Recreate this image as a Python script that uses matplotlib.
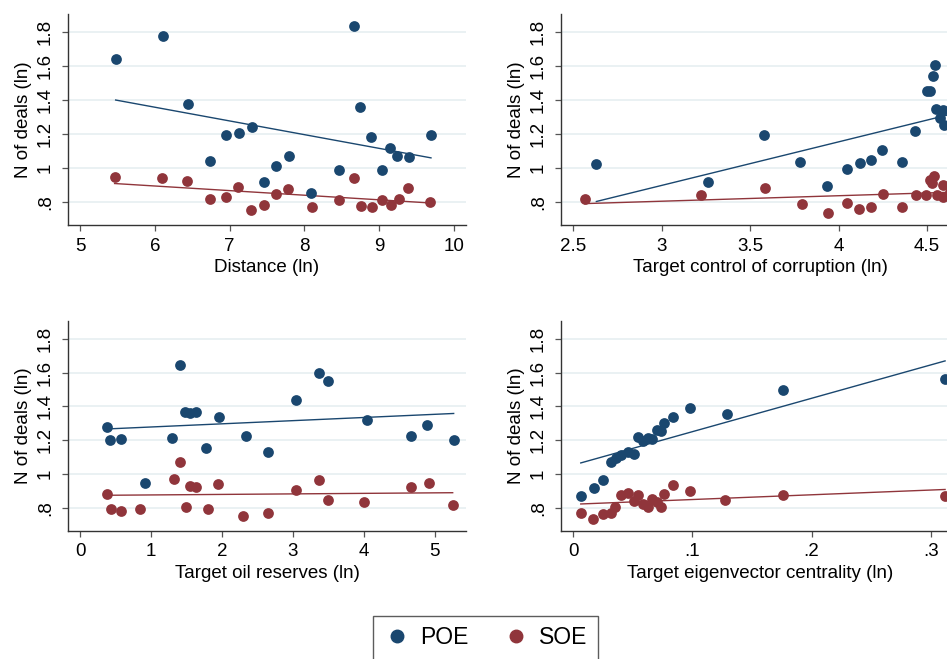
import numpy as np
import matplotlib
matplotlib.use("Agg")
import matplotlib.pyplot as plt

plt.rcParams['font.family'] = ['Liberation Sans', 'DejaVu Sans']

POE_COLOR = '#1a476f'
SOE_COLOR = '#90353b'
GRID_COLOR = '#e8f0f2'

# --- Distance ---
dist_poe_x = [5.477, 6.110, 6.444, 6.734, 6.956, 7.120, 7.300, 7.455, 7.625, 7.790,
              8.084, 8.463, 8.659, 8.748, 8.886, 9.042, 9.144, 9.242, 9.398, 9.692]
dist_poe_y = [1.641, 1.776, 1.376, 1.042, 1.195, 1.207, 1.240, 0.916, 1.010, 1.067,
              0.855, 0.989, 1.837, 1.356, 1.181, 0.989, 1.118, 1.067, 1.065, 1.191]
dist_soe_x = [5.463, 6.096, 6.430, 6.738, 6.956, 7.116, 7.290, 7.464, 7.620, 7.780,
              8.106, 8.467, 8.663, 8.757, 8.899, 9.042, 9.153, 9.260, 9.389, 9.683]
dist_soe_y = [0.947, 0.941, 0.920, 0.816, 0.828, 0.886, 0.755, 0.782, 0.847, 0.873,
              0.767, 0.812, 0.938, 0.778, 0.769, 0.812, 0.782, 0.816, 0.881, 0.798]

# --- Control of corruption ---
corr_poe_x = [2.630, 3.260, 3.580, 3.780, 3.936, 4.048, 4.119, 4.183, 4.247, 4.360,
              4.434, 4.499, 4.518, 4.535, 4.544, 4.551, 4.574, 4.589, 4.597, 4.640]
corr_poe_y = [1.024, 0.918, 1.191, 1.032, 0.892, 0.996, 1.030, 1.044, 1.106, 1.032,
              1.216, 1.451, 1.451, 1.541, 1.604, 1.349, 1.291, 1.339, 1.251, 1.300]
corr_soe_x = [2.564, 3.220, 3.584, 3.793, 3.942, 4.049, 4.117, 4.183, 4.251, 4.360,
              4.437, 4.495, 4.515, 4.529, 4.540, 4.559, 4.589, 4.593, 4.630, 4.660]
corr_soe_y = [0.818, 0.843, 0.881, 0.788, 0.733, 0.794, 0.759, 0.772, 0.845, 0.772,
              0.839, 0.839, 0.928, 0.910, 0.951, 0.839, 0.898, 0.829, 0.860, 0.850]

# --- Oil reserves ---
oil_poe_x = [0.372, 0.423, 0.574, 0.908, 1.294, 1.402, 1.482, 1.552, 1.627, 1.778,
             1.952, 2.338, 2.648, 3.039, 3.363, 3.490, 4.040, 4.661, 4.887, 5.268]
oil_poe_y = [1.277, 1.201, 1.207, 0.947, 1.216, 1.647, 1.370, 1.362, 1.370, 1.156,
             1.338, 1.228, 1.130, 1.440, 1.600, 1.549, 1.319, 1.228, 1.289, 1.199]
oil_soe_x = [0.372, 0.428, 0.569, 0.842, 1.317, 1.402, 1.491, 1.543, 1.627, 1.806,
             1.938, 2.291, 2.643, 3.039, 3.363, 3.500, 4.003, 4.661, 4.925, 5.254]
oil_soe_y = [0.881, 0.794, 0.780, 0.794, 0.971, 1.071, 0.808, 0.932, 0.924, 0.796,
             0.941, 0.755, 0.769, 0.906, 0.967, 0.849, 0.837, 0.924, 0.949, 0.818]

# --- Eigenvector centrality ---
eig_poe_x = [0.0062, 0.0171, 0.0246, 0.0313, 0.0355, 0.0400, 0.0459, 0.0509, 0.0540, 0.0582,
             0.0624, 0.0663, 0.0705, 0.0736, 0.0764, 0.0837, 0.0977, 0.1293, 0.1760, 0.3121]
eig_poe_y = [0.873, 0.918, 0.963, 1.071, 1.098, 1.116, 1.132, 1.120, 1.220, 1.197,
             1.216, 1.208, 1.262, 1.254, 1.305, 1.335, 1.388, 1.354, 1.499, 1.560]
eig_soe_x = [0.0062, 0.0168, 0.0246, 0.0313, 0.0350, 0.0400, 0.0459, 0.0509, 0.0540, 0.0582,
             0.0624, 0.0663, 0.0705, 0.0736, 0.0764, 0.0837, 0.0977, 0.1273, 0.1758, 0.3121]
eig_soe_y = [0.769, 0.737, 0.765, 0.772, 0.806, 0.879, 0.886, 0.839, 0.879, 0.822,
             0.804, 0.855, 0.837, 0.808, 0.884, 0.935, 0.903, 0.847, 0.877, 0.871]

# linear fits (intercept, slope) as drawn in the reference
fit_poe = [(1.841, -0.0807), (0.129, 0.256), (1.260, 0.0187), (1.054, 1.971)]
fit_soe = [(1.056, -0.0271), (0.707, 0.0323), (0.874, 0.0031), (0.822, 0.280)]

xlabels = ["Distance (ln)", "Target control of corruption (ln)",
           "Target oil reserves (ln)", "Target eigenvector centrality (ln)"]
xticks = [[5, 6, 7, 8, 9, 10], [2.5, 3, 3.5, 4, 4.5], [0, 1, 2, 3, 4, 5], [0, 0.1, 0.2, 0.3]]
xticklabels = [["5", "6", "7", "8", "9", "10"], ["2.5", "3", "3.5", "4", "4.5"],
               ["0", "1", "2", "3", "4", "5"], ["0", ".1", ".2", ".3"]]
xlims = [(4.84, 10.16), (2.43, 4.681), (-0.174, 5.442), (-0.0104, 0.3238)]
yticks = [0.8, 1.0, 1.2, 1.4, 1.6, 1.8]
yticklabels = [".8", "1", "1.2", "1.4", "1.6", "1.8"]

panels = [(dist_poe_x, dist_poe_y, dist_soe_x, dist_soe_y),
          (corr_poe_x, corr_poe_y, corr_soe_x, corr_soe_y),
          (oil_poe_x, oil_poe_y, oil_soe_x, oil_soe_y),
          (eig_poe_x, eig_poe_y, eig_soe_x, eig_soe_y)]

W, H = 947, 659
fig = plt.figure(figsize=(W / 100, H / 100), dpi=100)

# axes boxes in pixels: left, top, right, bottom
boxes = [(68, 14, 466, 225), (561, 14, 959, 225),
         (68, 321, 466, 531), (561, 321, 959, 531)]

for i, (px, py, sx, sy) in enumerate(panels):
    l, t, r, b = boxes[i]
    ax = fig.add_axes([l / W, 1 - b / H, (r - l) / W, (b - t) / H])
    ax.set_xlim(*xlims[i])
    ax.set_ylim(0.664, 1.905)
    for yv in yticks:
        ax.axhline(yv, color=GRID_COLOR, lw=1.3, zorder=0)

    ax.scatter(px, py, s=60, color=POE_COLOR, zorder=3, linewidths=0)
    ax.scatter(sx, sy, s=60, color=SOE_COLOR, zorder=3, linewidths=0)

    xs = np.array([min(px), max(px)])
    ax.plot(xs, fit_poe[i][0] + fit_poe[i][1] * xs, color=POE_COLOR, lw=1.0, zorder=2)
    xs = np.array([min(sx), max(sx)])
    ax.plot(xs, fit_soe[i][0] + fit_soe[i][1] * xs, color=SOE_COLOR, lw=1.0, zorder=2)

    for side in ['top', 'right']:
        ax.spines[side].set_visible(False)
    for side in ['left', 'bottom']:
        ax.spines[side].set_color('#333333')
        ax.spines[side].set_linewidth(1.0)

    ax.set_xticks(xticks[i])
    ax.set_xticklabels(xticklabels[i])
    ax.set_yticks(yticks)
    ax.set_yticklabels(yticklabels, rotation=90, va='center')
    ax.tick_params(axis='both', length=4, width=0.9, color='#555555',
                   labelsize=13.5, pad=5)
    ax.tick_params(axis='y', pad=6)
    ax.set_xlabel(xlabels[i], fontsize=13.5, labelpad=3)
    ax.set_ylabel("N of deals (ln)", fontsize=13.5, labelpad=4)

handles = [plt.Line2D([], [], ls='none', marker='o', markersize=9, color=POE_COLOR),
           plt.Line2D([], [], ls='none', marker='o', markersize=9, color=SOE_COLOR)]
fig.legend(handles, ["POE", "SOE"], loc='upper center', bbox_to_anchor=(0.5127, 0.0653),
           ncol=2, fontsize=16.5, frameon=True, fancybox=False, edgecolor='#333333',
           borderpad=0.45, borderaxespad=0, handletextpad=0.4, columnspacing=1.5,
           handlelength=1.2)

fig.savefig("out.png", dpi=100)
